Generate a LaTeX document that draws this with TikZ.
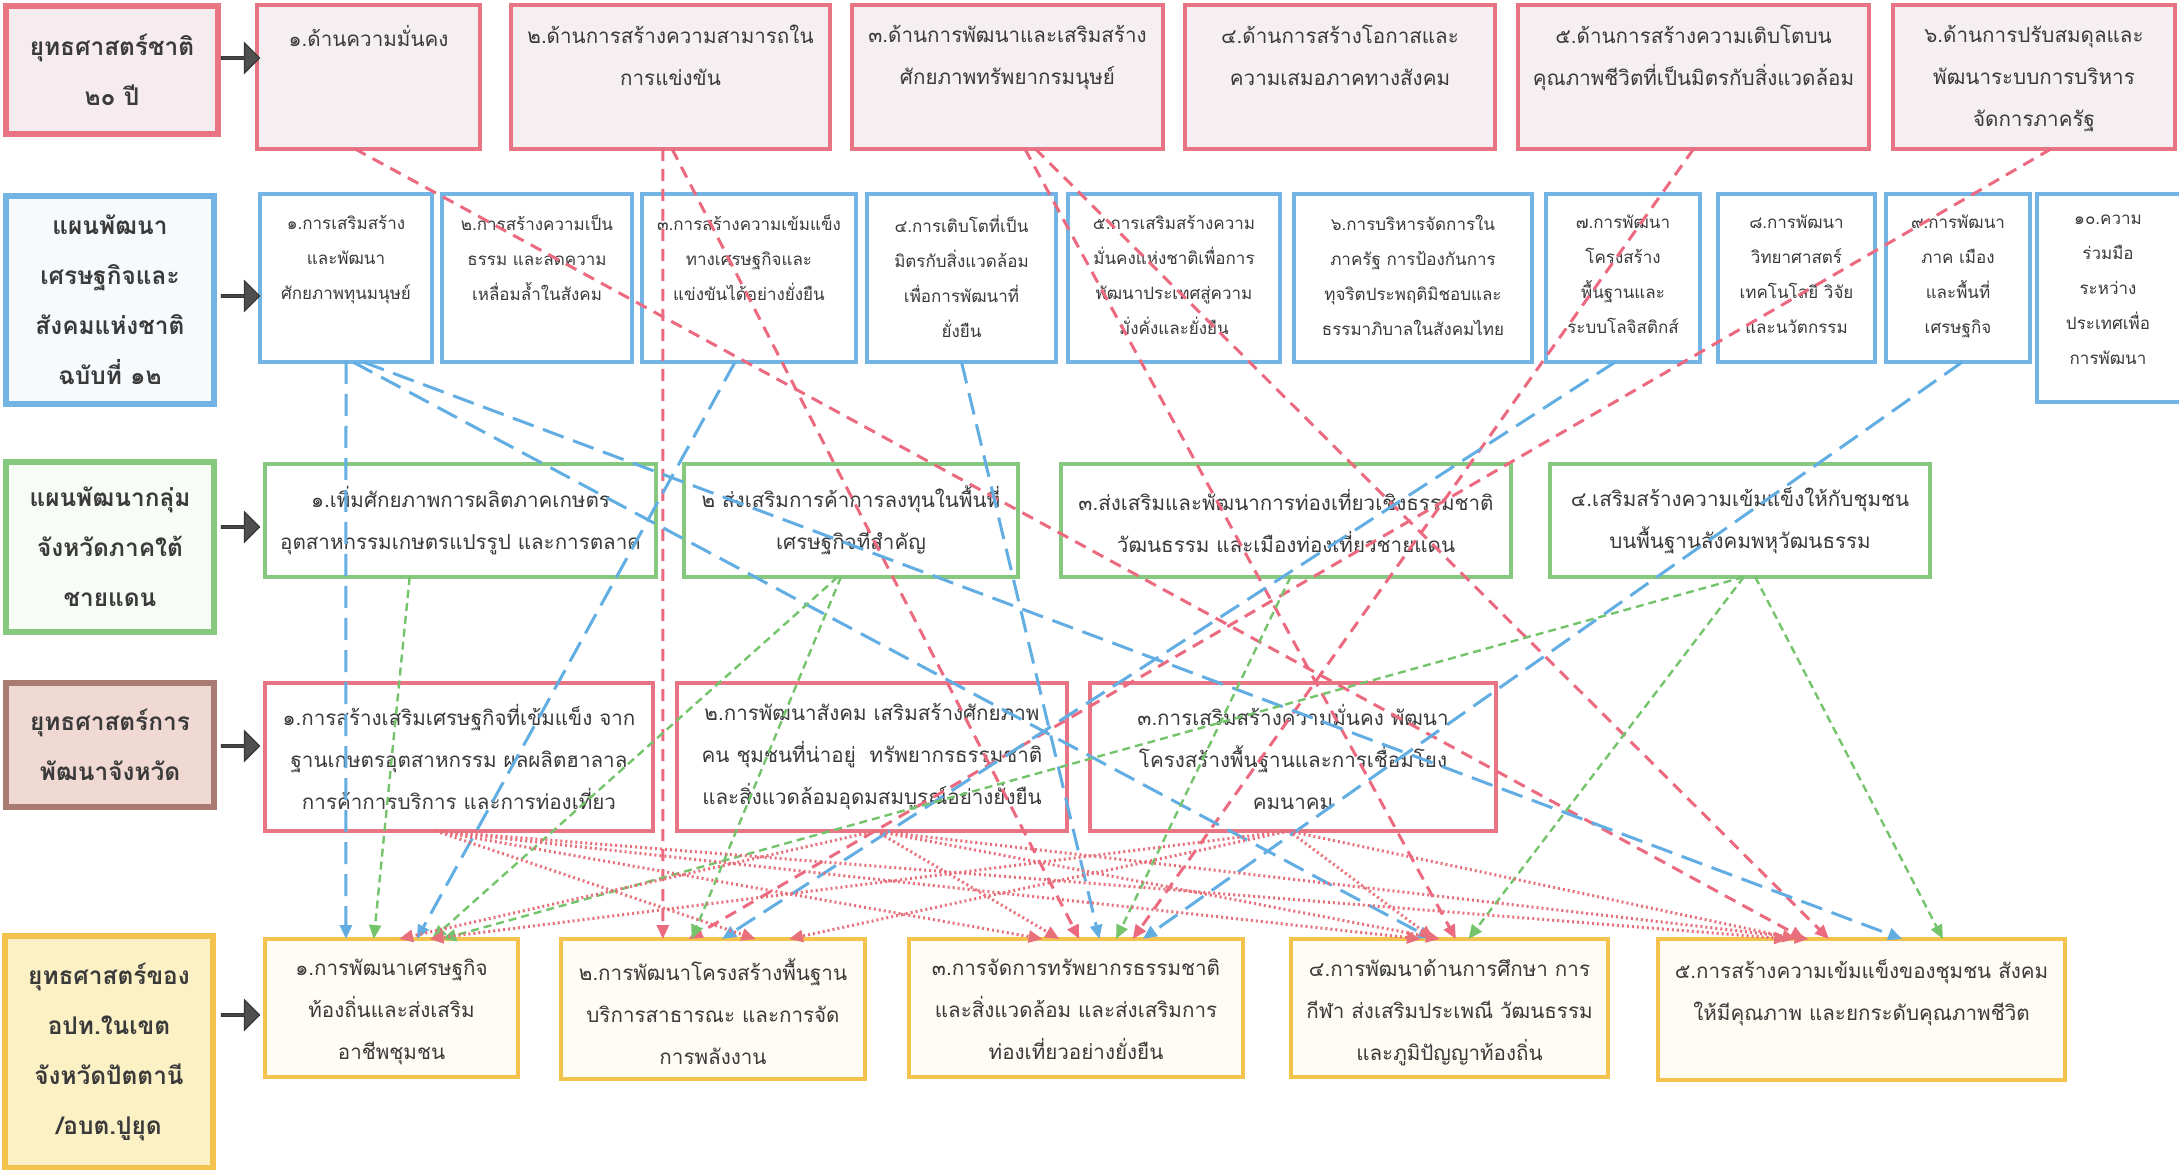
\documentclass[tikz,border=0pt]{standalone}
\usepackage{fontspec}
\newfontfamily\thai[Script=Thai]{Loma}
\usetikzlibrary{calc,arrows.meta,shapes.arrows}
\definecolor{cRed}{HTML}{E87484}
\definecolor{cRfill}{HTML}{F5EFF1}
\definecolor{cT1fill}{HTML}{F6EBEE}
\definecolor{cBlue}{HTML}{72B4E4}
\definecolor{cT2fill}{HTML}{F6FAFD}
\definecolor{cGreen}{HTML}{86C97E}
\definecolor{cT3fill}{HTML}{F8FCF7}
\definecolor{cBrown}{HTML}{A97B73}
\definecolor{cT4fill}{HTML}{EFD9D2}
\definecolor{cYel}{HTML}{F4C34E}
\definecolor{cYfill}{HTML}{FEFCF4}
\definecolor{cT5fill}{HTML}{FBF1C4}
\definecolor{cLR}{HTML}{EC6A80}
\definecolor{cLB}{HTML}{62AEE3}
\definecolor{cLG}{HTML}{74C46C}
\definecolor{cLD}{HTML}{E8707A}
\definecolor{cTxt}{HTML}{3A3A3A}
\definecolor{cArr}{HTML}{4F4F4F}
\newcommand{\mkbox}[6]{\node[#1,minimum width={(#5-#3)*0.5pt},minimum height={(#6-#4)*0.5pt}] (#2) at ({(#3+#5)/2},{(#4+#6)/2}) {};}
\newcommand{\ttop}[4]{\node[#1,anchor=north] (#2t) at ($(#2.north)+(0,#3)$) {#4};}
\newcommand{\tcen}[3]{\node[#1] (#2t) at (#2.center) {#3};}
\newcommand{\lnk}[5]{\draw[#1] ($(#2.south west)!#3!(#2.south east)$) -- ($(#4.north west)!#5!(#4.north east)$);}
\begin{document}
\begin{tikzpicture}[x=0.5pt,y=-0.5pt,
  every node/.style={inner sep=0pt,outer sep=0pt},
  rowA/.style={draw=cRed,fill=cRfill,line width=2pt},
  rowB/.style={draw=cBlue,fill=white,line width=1.6pt},
  rowC/.style={draw=cGreen,fill=white,line width=1.6pt},
  rowD/.style={draw=cRed,fill=white,line width=1.6pt},
  rowE/.style={draw=cYel,fill=cYfill,line width=1.6pt},
  ttlA/.style={draw=cRed,fill=cT1fill,line width=2.6pt},
  ttlB/.style={draw=cBlue,fill=cT2fill,line width=2.6pt},
  ttlC/.style={draw=cGreen,fill=cT3fill,line width=2.6pt},
  ttlD/.style={draw=cBrown,fill=cT4fill,line width=2.6pt},
  ttlE/.style={draw=cYel,fill=cT5fill,line width=2.6pt},
  tt/.style={align=center,text=cTxt,font=\thai\bfseries\fontsize{12.2pt}{25pt}\selectfont},
  ta/.style={align=center,text=cTxt,font=\thai\fontsize{10.3pt}{21pt}\selectfont},
  tb/.style={align=center,text=cTxt,font=\thai\fontsize{8.5pt}{17.5pt}\selectfont},
  blk/.style={single arrow,fill=cArr,draw=cArr!70!black,line width=0.6pt,minimum height=19pt,minimum width=15pt,single arrow head extend=3.5pt},
  tip/.style={-{Triangle[length=7pt,width=6pt]}},
  lr/.style={tip,draw=cLR,line width=1.5pt,dash pattern=on 6pt off 4pt},
  lb/.style={tip,draw=cLB,line width=1.5pt,dash pattern=on 11pt off 5pt},
  lg/.style={tip,draw=cLG,line width=1.2pt,dash pattern=on 4pt off 2.5pt},
  ld/.style={tip,draw=cLD,line width=1.5pt,dash pattern=on 1pt off 1.5pt}
]
\useasboundingbox[fill=white] (0,0) rectangle (2179,1170);
% ---------- row 1
\mkbox{ttlA}{t1}{6}{6}{218}{134}
\tcen{tt}{t1}{ยุทธศาสตร์ชาติ\\๒๐ ปี}
\mkbox{rowA}{r1b1}{257}{5}{480}{149}
\mkbox{rowA}{r1b2}{511}{5}{830}{149}
\mkbox{rowA}{r1b3}{852}{5}{1163}{149}
\mkbox{rowA}{r1b4}{1185}{5}{1495}{149}
\mkbox{rowA}{r1b5}{1518}{5}{1869}{149}
\mkbox{rowA}{r1b6}{1893}{5}{2175}{149}
\ttop{ta}{r1b1}{20}{๑.ด้านความมั่นคง}
\ttop{ta}{r1b2}{20}{๒.ด้านการสร้างความสามารถใน\\การแข่งขัน}
\ttop{ta}{r1b3}{20}{๓.ด้านการพัฒนาและเสริมสร้าง\\ศักยภาพทรัพยากรมนุษย์}
\ttop{ta}{r1b4}{20}{๔.ด้านการสร้างโอกาสและ\\ความเสมอภาคทางสังคม}
\ttop{ta}{r1b5}{20}{๕.ด้านการสร้างความเติบโตบน\\คุณภาพชีวิตที่เป็นมิตรกับสิ่งแวดล้อม}
\ttop{ta}{r1b6}{20}{๖.ด้านการปรับสมดุลและ\\พัฒนาระบบการบริหาร\\จัดการภาครัฐ}
\node[blk] (a1) at (240,58) {};
% ---------- row 2
\mkbox{ttlB}{t2}{6}{196}{214}{404}
\tcen{tt}{t2}{แผนพัฒนา\\เศรษฐกิจและ\\สังคมแห่งชาติ\\ฉบับที่ ๑๒}
\mkbox{rowB}{r2b1}{260}{194}{432}{362}
\mkbox{rowB}{r2b2}{442}{194}{632}{362}
\mkbox{rowB}{r2b3}{642}{194}{856}{362}
\mkbox{rowB}{r2b4}{867}{194}{1056}{362}
\mkbox{rowB}{r2b5}{1068}{194}{1280}{362}
\mkbox{rowB}{r2b6}{1294}{194}{1532}{362}
\mkbox{rowB}{r2b7}{1546}{194}{1700}{362}
\mkbox{rowB}{r2b8}{1718}{194}{1875}{362}
\mkbox{rowB}{r2b9}{1886}{194}{2030}{362}
\mkbox{rowB}{r2b10}{2037}{194}{2190}{402}
\ttop{tb}{r2b1}{21}{๑.การเสริมสร้าง\\และพัฒนา\\ศักยภาพทุนมนุษย์}
\ttop{tb}{r2b2}{21}{๒.การสร้างความเป็น\\ธรรม และลดความ\\เหลื่อมล้ำในสังคม}
\ttop{tb}{r2b3}{21}{๓.การสร้างความเข้มแข็ง\\ทางเศรษฐกิจและ\\แข่งขันได้อย่างยั่งยืน}
\ttop{tb}{r2b4}{21}{๔.การเติบโตที่เป็น\\มิตรกับสิ่งแวดล้อม\\เพื่อการพัฒนาที่\\ยั่งยืน}
\ttop{tb}{r2b5}{21}{๕.การเสริมสร้างความ\\มั่นคงแห่งชาติเพื่อการ\\พัฒนาประเทศสู่ความ\\มั่งคั่งและยั่งยืน}
\ttop{tb}{r2b6}{21}{๖.การบริหารจัดการใน\\ภาครัฐ การป้องกันการ\\ทุจริตประพฤติมิชอบและ\\ธรรมาภิบาลในสังคมไทย}
\ttop{tb}{r2b7}{21}{๗.การพัฒนา\\โครงสร้าง\\พื้นฐานและ\\ระบบโลจิสติกส์}
\ttop{tb}{r2b8}{21}{๘.การพัฒนา\\วิทยาศาสตร์\\เทคโนโลยี วิจัย\\และนวัตกรรม}
\ttop{tb}{r2b9}{21}{๙.การพัฒนา\\ภาค เมือง\\และพื้นที่\\เศรษฐกิจ}
\node[tb,anchor=north] (r2b10t) at (2108,215) {๑๐.ความ\\ร่วมมือ\\ระหว่าง\\ประเทศเพื่อ\\การพัฒนา};
\node[blk] (a2) at (240,296) {};
% ---------- row 3
\mkbox{ttlC}{t3}{6}{462}{214}{632}
\tcen{tt}{t3}{แผนพัฒนากลุ่ม\\จังหวัดภาคใต้\\ชายแดน}
\mkbox{rowC}{r3b1}{265}{464}{656}{577}
\mkbox{rowC}{r3b2}{684}{464}{1018}{577}
\mkbox{rowC}{r3b3}{1061}{464}{1511}{577}
\mkbox{rowC}{r3b4}{1550}{464}{1930}{577}
\tcen{ta}{r3b1}{๑.เพิ่มศักยภาพการผลิตภาคเกษตร\\อุตสาหกรรมเกษตรแปรรูป และการตลาด}
\tcen{ta}{r3b2}{๒ ส่งเสริมการค้าการลงทุนในพื้นที่\\เศรษฐกิจที่สำคัญ}
\tcen{ta}{r3b3}{๓.ส่งเสริมและพัฒนาการท่องเที่ยวเชิงธรรมชาติ\\วัฒนธรรม และเมืองท่องเที่ยวชายแดน}
\tcen{ta}{r3b4}{๔.เสริมสร้างความเข้มแข็งให้กับชุมชน\\บนพื้นฐานสังคมพหุวัฒนธรรม}
\node[blk] (a3) at (240,527) {};
% ---------- row 4
\mkbox{ttlD}{t4}{6}{683}{214}{807}
\tcen{tt}{t4}{ยุทธศาสตร์การ\\พัฒนาจังหวัด}
\mkbox{rowD}{r4b1}{265}{683}{653}{831}
\mkbox{rowD}{r4b2}{677}{683}{1067}{831}
\mkbox{rowD}{r4b3}{1090}{683}{1496}{831}
\tcen{ta}{r4b1}{๑.การสร้างเสริมเศรษฐกิจที่เข้มแข็ง จาก\\ฐานเกษตรอุตสาหกรรม ผลผลิตฮาลาล\\การค้าการบริการ และการท่องเที่ยว}
\tcen{ta}{r4b2}{๒.การพัฒนาสังคม เสริมสร้างศักยภาพ\\คน ชุมชนที่น่าอยู่~ ทรัพยากรธรรมชาติ\\และสิ่งแวดล้อมอุดมสมบูรณ์อย่างยั่งยืน}
\tcen{ta}{r4b3}{๓.การเสริมสร้างความมั่นคง พัฒนา\\โครงสร้างพื้นฐานและการเชื่อมโยง\\คมนาคม}
\node[blk] (a4) at (240,746) {};
% ---------- row 5
\mkbox{ttlE}{t5}{5}{936}{213}{1168}
\tcen{tt}{t5}{ยุทธศาสตร์ของ\\อปท.ในเขต\\จังหวัดปัตตานี\\/อบต.ปูยุด}
\mkbox{rowE}{r5b1}{265}{939}{518}{1077}
\mkbox{rowE}{r5b2}{561}{939}{865}{1079}
\mkbox{rowE}{r5b3}{909}{939}{1243}{1077}
\mkbox{rowE}{r5b4}{1291}{939}{1608}{1077}
\mkbox{rowE}{r5b5}{1658}{939}{2065}{1080}
\ttop{ta}{r5b1}{20}{๑.การพัฒนาเศรษฐกิจ\\ท้องถิ่นและส่งเสริม\\อาชีพชุมชน}
\ttop{ta}{r5b2}{20}{๒.การพัฒนาโครงสร้างพื้นฐาน\\บริการสาธารณะ และการจัด\\การพลังงาน}
\ttop{ta}{r5b3}{20}{๓.การจัดการทรัพยากรธรรมชาติ\\และสิ่งแวดล้อม และส่งเสริมการ\\ท่องเที่ยวอย่างยั่งยืน}
\ttop{ta}{r5b4}{20}{๔.การพัฒนาด้านการศึกษา การ\\กีฬา ส่งเสริมประเพณี วัฒนธรรม\\และภูมิปัญญาท้องถิ่น}
\ttop{ta}{r5b5}{20}{๕.การสร้างความเข้มแข็งของชุมชน สังคม\\ให้มีคุณภาพ และยกระดับคุณภาพชีวิต}
\node[blk] (a5) at (240,1015) {};
% ---------- connectors: red dashed (national strategy)
\lnk{lr}{r1b1}{0.44}{r5b5}{0.36}
\lnk{lr}{r1b2}{0.476}{r5b2}{0.335}
\lnk{lr}{r1b2}{0.505}{r5b3}{0.51}
\lnk{lr}{r1b3}{0.556}{r5b4}{0.52}
\lnk{lr}{r1b3}{0.59}{r5b5}{0.42}
\lnk{lr}{r1b5}{0.50}{r5b3}{0.67}
\lnk{lr}{r1b6}{0.56}{r5b2}{0.42}
% blue dashed (national plan)
\lnk{lb}{r2b1}{0.5}{r5b1}{0.32}
\lnk{lb}{r2b1}{0.54}{r5b4}{0.445}
\lnk{lb}{r2b1}{0.6}{r5b5}{0.6}
\lnk{lb}{r2b3}{0.435}{r5b1}{0.6}
\lnk{lb}{r2b4}{0.5}{r5b3}{0.57}
\lnk{lb}{r2b7}{0.45}{r5b2}{0.53}
\lnk{lb}{r2b9}{0.53}{r5b3}{0.70}
% green dashed (provincial cluster plan)
\lnk{lg}{r3b1}{0.37}{r5b1}{0.43}
\lnk{lg}{r3b2}{0.46}{r5b1}{0.66}
\lnk{lg}{r3b2}{0.47}{r5b2}{0.43}
\lnk{lg}{r3b3}{0.51}{r5b3}{0.62}
\lnk{lg}{r3b4}{0.51}{r5b1}{0.70}
\lnk{lg}{r3b4}{0.51}{r5b4}{0.56}
\lnk{lg}{r3b4}{0.54}{r5b5}{0.70}
% red dotted (provincial strategy)
\lnk{ld}{r4b1}{0.44}{r5b2}{0.64}
\lnk{ld}{r4b1}{0.44}{r5b3}{0.40}
\lnk{ld}{r4b1}{0.44}{r5b4}{0.41}
\lnk{ld}{r4b1}{0.44}{r5b5}{0.32}
\lnk{ld}{r4b2}{0.51}{r5b1}{0.53}
\lnk{ld}{r4b2}{0.51}{r5b3}{0.45}
\lnk{ld}{r4b2}{0.51}{r5b4}{0.47}
\lnk{ld}{r4b2}{0.51}{r5b5}{0.37}
\lnk{ld}{r4b3}{0.49}{r5b1}{0.65}
\lnk{ld}{r4b3}{0.49}{r5b2}{0.75}
\lnk{ld}{r4b3}{0.49}{r5b4}{0.45}
\lnk{ld}{r4b3}{0.49}{r5b5}{0.34}
\end{tikzpicture}
\end{document}
